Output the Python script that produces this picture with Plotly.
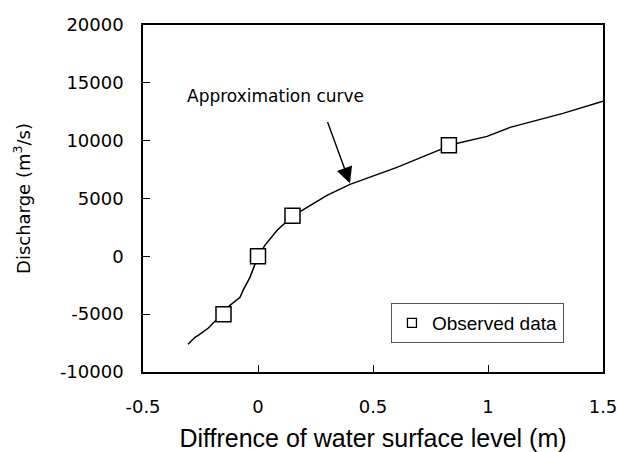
import plotly.graph_objects as go

# Approximation curve (water-level difference vs discharge)
curve_x = [-0.304, -0.274, -0.26, -0.217, -0.157, -0.122, -0.078, -0.065, -0.035, -0.013,
           0.0, 0.03, 0.083, 0.152, 0.213, 0.3, 0.4, 0.604, 0.805, 0.83,
           0.996, 1.096, 1.326, 1.5]
curve_y = [-7600, -7000, -6830, -6220, -5000, -4235, -3540, -2940, -1815, -605,
           0, 950, 2250, 3500, 4235, 5270, 6220, 7690, 9330, 9600,
           10370, 11150, 12360, 13400]

# Observed points
obs_x = [-0.15, 0.0, 0.15, 0.83]
obs_y = [-5000, 0, 3500, 9600]

x_ticks = [-0.5, 0, 0.5, 1, 1.5]
x_tick_text = ["-0.5", "0", "0.5", "1", "1.5"]
y_ticks = [-10000, -5000, 0, 5000, 10000, 15000, 20000]
y_tick_text = ["-10000", "-5000", "0", "5000", "10000", "15000", "20000"]

SANS = "Liberation Sans, Arial, sans-serif"
WIDE = "DejaVu Sans, sans-serif"

fig = go.Figure()
fig.add_trace(go.Scatter(
    x=curve_x, y=curve_y, mode="lines",
    line=dict(color="black", width=1.5),
    showlegend=False, hoverinfo="skip",
))
fig.add_trace(go.Scatter(
    x=obs_x, y=obs_y, mode="markers", name="Observed data",
    marker=dict(symbol="square", size=15, color="white",
                line=dict(color="black", width=1.5)),
    showlegend=False,
))
# legend entry with a smaller key symbol
fig.add_trace(go.Scatter(
    x=[None], y=[None], mode="markers", name="Observed data",
    marker=dict(symbol="square", size=9, color="white",
                line=dict(color="black", width=1.3)),
    showlegend=True,
))

fig.add_annotation(
    x=0.4, y=6310, ax=0.3, ay=11750, xref="x", yref="y", axref="x", ayref="y",
    text="", showarrow=True, arrowhead=2, arrowsize=2.3, arrowwidth=1.4,
    arrowcolor="black",
)
fig.add_annotation(
    x=0.074, y=13830, xref="x", yref="y", text="Approximation curve",
    showarrow=False, font=dict(family=WIDE, size=17, color="black"),
)

fig.update_layout(
    width=618, height=452,
    margin=dict(l=143, r=15, t=25, b=80),
    paper_bgcolor="white", plot_bgcolor="white",
    font=dict(family=SANS, color="black"),
    legend=dict(
        x=0.539, y=0.199, xanchor="left", yanchor="top",
        bordercolor="#555555", borderwidth=1, bgcolor="white",
        font=dict(family=SANS, size=19, color="black"),
        itemsizing="trace", itemwidth=30,
    ),
    showlegend=True,
)
fig.update_xaxes(
    range=[-0.5, 1.5], tickvals=x_ticks, ticktext=x_tick_text,
    automargin=False,
    showgrid=False, zeroline=False, showline=True, mirror=True,
    linecolor="black", linewidth=1.5,
    ticks="inside", ticklen=7, tickcolor="black", tickwidth=1,
    ticklabelstandoff=18,
    tickfont=dict(family=WIDE, size=18, color="black"),
    title=dict(text="Diffrence of water surface level (m)",
               font=dict(family=SANS, size=25, color="black"), standoff=13),
)
fig.update_yaxes(
    range=[-10000, 20000], tickvals=y_ticks, ticktext=y_tick_text,
    automargin=False,
    showgrid=False, zeroline=False, showline=True, mirror=True,
    linecolor="black", linewidth=1.5,
    ticks="inside", ticklen=7, tickcolor="black", tickwidth=1,
    ticklabelstandoff=14,
    tickfont=dict(family=WIDE, size=18, color="black"),
    title=dict(text="Discharge (m<sup>3</sup>/s)",
               font=dict(family=WIDE, size=18, color="black"), standoff=25),
)

fig.write_html("out.html")
